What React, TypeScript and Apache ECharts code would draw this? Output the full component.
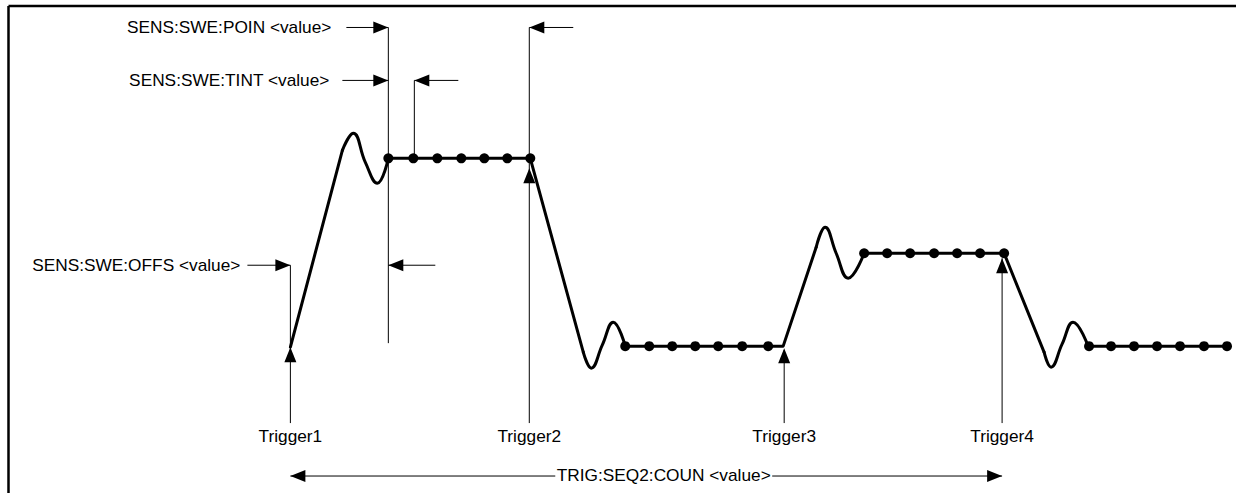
import React, { useEffect, useRef } from "react";
import * as echarts from "echarts";

type Pt = [number, number];

// Plot space: x = time position, y = level position (0 at the top), both in drawing units
const X_MAX = 1236;
const Y_MAX = 493;

// outer frame (top and left edges only)
const FRAME: Pt[][] = [
  [[8, 5.5], [1236, 5.5]],
  [[8, 5.5], [8, 493]],
];

// straight parts of the measured trace
const TRACE_STRAIGHT: Pt[][] = [
  [[290, 347], [342, 150]],
  [[388, 158], [530, 158], [583, 352]],
  [[625, 346], [783, 346], [816, 247]],
  [[864, 253], [1004, 253], [1044, 352]],
  [[1088, 346], [1229, 346]],
];

// settling (ringing) parts of the trace
const RING_1: Pt[] = [[342, 150], [353, 133], [365, 162], [377, 183], [388, 158]];
const RING_2: Pt[] = [[583, 352], [591, 368], [602, 345], [613, 322], [625, 346]];
const RING_3: Pt[] = [[816, 247], [825, 227], [836, 253], [848, 278], [864, 253]];
const RING_4: Pt[] = [[1044, 352], [1051, 367], [1062, 344], [1073, 322], [1088, 346]];
const RINGING = [RING_1, RING_2, RING_3, RING_4];

// measurement points (dots)
const DOTS_TOP_1_X = [388, 413, 437, 461, 484, 507, 530];
const DOTS_TOP_1_Y = 158;
const DOTS_LOW_1_X = [625, 649, 672, 695, 718, 742, 768];
const DOTS_LOW_1_Y = 346;
const DOTS_TOP_2_X = [864, 887, 910, 934, 957, 980, 1004];
const DOTS_TOP_2_Y = 253;
const DOTS_LOW_2_X = [1089, 1111, 1134, 1157, 1180, 1204, 1227];
const DOTS_LOW_2_Y = 346;

// thin vertical guide lines
const GUIDES: Pt[][] = [
  [[388, 27], [388, 343]],
  [[529, 27], [529, 423]],
  [[414, 80], [414, 158]],
  [[290, 265], [290, 423]],
  [[784, 350], [784, 423]],
  [[1002, 258], [1002, 423]],
];

// arrow shafts
const SHAFTS: Pt[][] = [
  [[346, 27], [388, 27]],
  [[573, 27], [529, 27]],
  [[342, 80], [388, 80]],
  [[458, 80], [414, 80]],
  [[247, 265], [290, 265]],
  [[435, 265], [388, 265]],
  [[290, 476], [555, 476]],
  [[772, 476], [1002, 476]],
];

// arrow heads: tip position and pointing direction
const HEAD_TIPS: Pt[] = [
  [388, 27], [529, 27], [388, 80], [414, 80], [290, 265], [388, 265],
  [290, 347], [529, 168], [784, 348], [1002, 258],
  [290, 476], [1002, 476],
];
const HEAD_DIRS = [
  "right", "left", "right", "left", "right", "left",
  "up", "up", "up", "up",
  "left", "right",
];

// text labels
const LABEL_TEXTS = [
  "SENS:SWE:POIN <value>",
  "SENS:SWE:TINT <value>",
  "SENS:SWE:OFFS <value>",
  "Trigger1",
  "Trigger2",
  "Trigger3",
  "Trigger4",
  "TRIG:SEQ2:COUN <value>",
];
const LABEL_AT: Pt[] = [
  [331, 27], [329, 80], [240, 265],
  [290, 436.5], [529, 436.5], [784, 436.5], [1002, 436.5],
  [663.5, 476],
];
const LABEL_ALIGN = ["right", "right", "right", "center", "center", "center", "center", "center"];

const FONT = "'Liberation Sans', Arial, Helvetica, sans-serif";
const FONT_SIZE = 16;
const TEXT_SCALE_X = 1.08;
const HEAD_LEN = 15;
const HEAD_W = 12;

export default function App() {
  const ref = useRef<HTMLDivElement>(null);

  useEffect(() => {
    if (!ref.current) return;
    const chart = echarts.init(ref.current, undefined, { renderer: "svg" });

    const rot: Record<string, number> = { up: 0, left: 90, right: -90 };
    const off: Record<string, number[]> = {
      up: [0, HEAD_LEN / 2],
      left: [HEAD_LEN / 2, 0],
      right: [-HEAD_LEN / 2, 0],
    };

    const dots: Pt[] = [
      ...DOTS_TOP_1_X.map((x) => [x, DOTS_TOP_1_Y] as Pt),
      ...DOTS_LOW_1_X.map((x) => [x, DOTS_LOW_1_Y] as Pt),
      ...DOTS_TOP_2_X.map((x) => [x, DOTS_TOP_2_Y] as Pt),
      ...DOTS_LOW_2_X.map((x) => [x, DOTS_LOW_2_Y] as Pt),
    ];

    const option: any = {
      animation: false,
      backgroundColor: "#ffffff",
      grid: { left: 0.5, top: 0.5, width: X_MAX, height: Y_MAX, containLabel: false },
      xAxis: { type: "value", min: 0, max: X_MAX, show: false },
      yAxis: { type: "value", min: 0, max: Y_MAX, inverse: true, show: false },
      series: [
        {
          type: "lines",
          coordinateSystem: "cartesian2d",
          polyline: true,
          silent: true,
          symbol: "none",
          lineStyle: { color: "#000", width: 2.5, opacity: 1 },
          data: FRAME.map((c) => ({ coords: c })),
          z: 1,
        },
        {
          type: "lines",
          coordinateSystem: "cartesian2d",
          polyline: true,
          silent: true,
          symbol: "none",
          lineStyle: { color: "#000", width: 1, opacity: 1 },
          data: [...GUIDES, ...SHAFTS].map((c) => ({ coords: c })),
          z: 2,
        },
        {
          type: "lines",
          coordinateSystem: "cartesian2d",
          polyline: true,
          silent: true,
          symbol: "none",
          lineStyle: { color: "#000", width: 3, opacity: 1, join: "round", cap: "round" },
          data: TRACE_STRAIGHT.map((c) => ({ coords: c })),
          z: 3,
        },
        ...RINGING.map((pts) => ({
          type: "line",
          data: pts,
          smooth: 0.45,
          showSymbol: false,
          silent: true,
          lineStyle: { color: "#000", width: 3, cap: "round", join: "round" },
          z: 3,
        })),
        {
          type: "scatter",
          data: dots,
          symbol: "circle",
          symbolSize: 10,
          silent: true,
          itemStyle: { color: "#000", opacity: 1 },
          z: 4,
        },
        {
          type: "scatter",
          silent: true,
          symbol: "triangle",
          symbolSize: [HEAD_W, HEAD_LEN],
          itemStyle: { color: "#000", opacity: 1 },
          data: HEAD_TIPS.map((p, i) => ({
            value: p,
            symbolRotate: rot[HEAD_DIRS[i]],
            symbolOffset: off[HEAD_DIRS[i]],
          })),
          z: 5,
        },
        {
          type: "custom",
          coordinateSystem: "cartesian2d",
          silent: true,
          data: LABEL_AT.map((p, i) => [p[0], p[1], i]),
          renderItem: (params: any, api: any) => {
            const i = api.value(2);
            const c = api.coord([api.value(0), api.value(1)]);
            return {
              type: "text",
              x: c[0],
              y: c[1],
              scaleX: TEXT_SCALE_X,
              style: {
                text: LABEL_TEXTS[i],
                fill: "#000",
                fontFamily: FONT,
                fontSize: FONT_SIZE,
                align: LABEL_ALIGN[i],
                verticalAlign: "middle",
              },
            };
          },
          z: 6,
        },
      ],
    };

    chart.setOption(option);
    return () => chart.dispose();
  }, []);

  return (
    <div
      ref={ref}
      style={{ position: "fixed", left: 0, top: 0, width: 1236, height: 493, background: "#fff" }}
    />
  );
}
